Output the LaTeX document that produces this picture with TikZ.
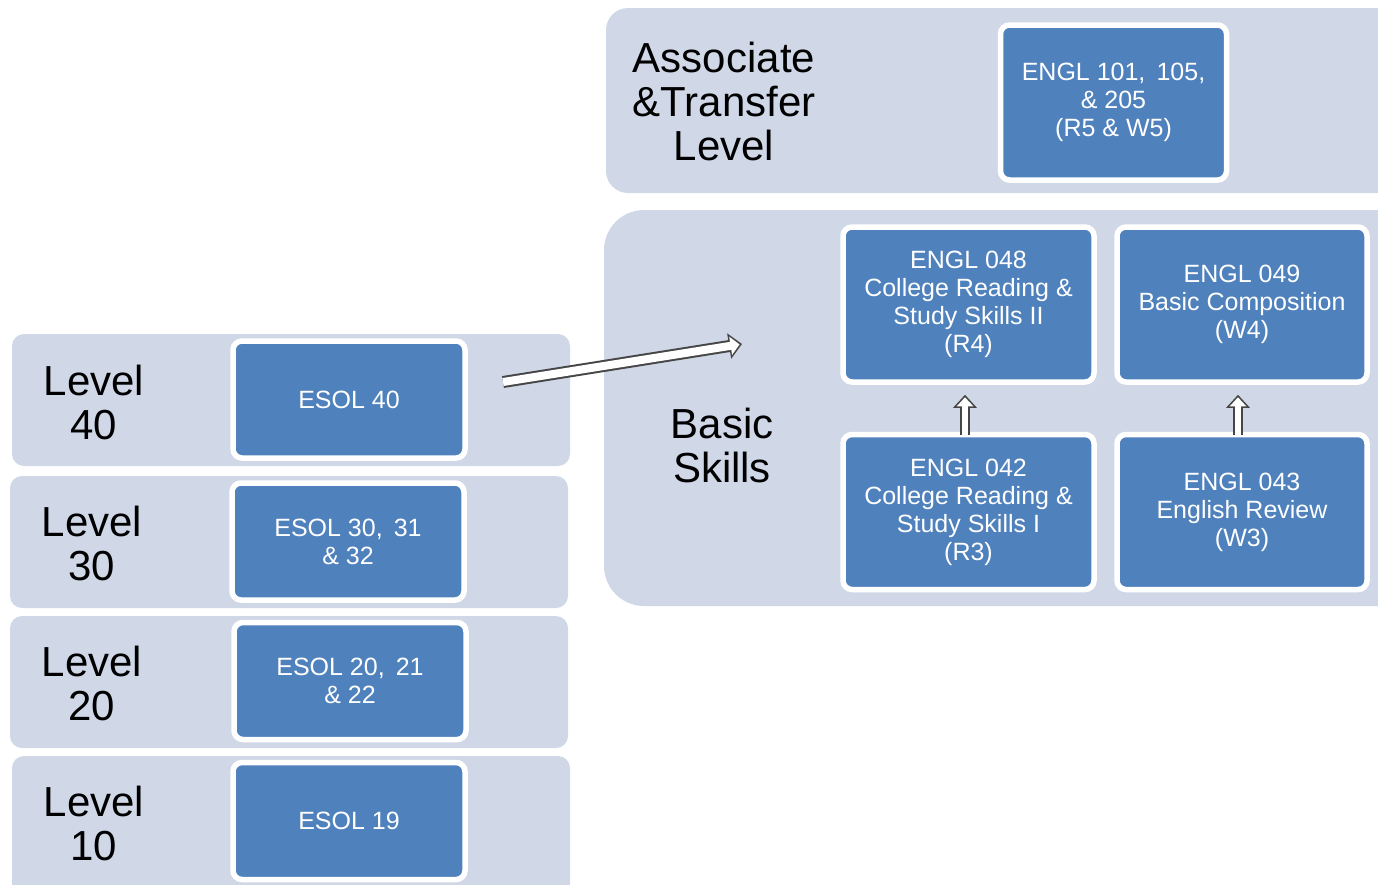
\documentclass[tikz,border=0pt]{standalone}
\usepackage{fontspec}
\setmainfont{Liberation Sans}
\usetikzlibrary{arrows.meta}
\definecolor{panelgray}{RGB}{208,216,232}
\definecolor{boxblue}{RGB}{79,129,189}
\definecolor{arrowgray}{RGB}{70,70,70}

\begin{document}
\begin{tikzpicture}[x=1pt,y=-1pt,
  panel/.style={fill=panelgray, rounded corners=#1},
  course/.style={draw=white, line width=5.5pt, fill=boxblue, rounded corners=9pt,
    text=white, align=center, font=\fontsize{25}{28}\selectfont,
    minimum width=232pt, minimum height=117pt, inner sep=0pt},
  wide/.style={minimum width=#1, minimum height=155pt},
  level/.style={align=center, font=\fontsize{42}{44}\selectfont, inner sep=0pt},
  blockarr/.style={draw=white, line width=#1, shorten >=2.5pt,
    -{Triangle[length=9pt, width=#1+10pt]},
    preaction={draw=arrowgray, line width=#1+4pt, shorten >=0pt,
      -{Triangle[length=13pt, width=#1+17pt]}}}]
  \useasboundingbox (0,0) rectangle (1378,884);
  \clip (0,0) rectangle (1378,884);

  \fill[panel=22pt] (606,8) rectangle (1420,193);
  \fill[panel=40pt] (604,210) rectangle (1420,606);
  \fill[panel=12pt] (12,334) rectangle (570,466);
  \fill[panel=12pt] (10,476) rectangle (568,608);
  \fill[panel=12pt] (10,616) rectangle (568,748);
  \fill[panel=12pt] (12,756) rectangle (570,910);

  \node[level] (assoc) at (724,101) {Associate\\\&Transfer\\Level};
  \node[level] (basic) at (722,445) {Basic\\Skills};
  \node[level] (lev40) at (94,402) {Level\\40};
  \node[level] (lev30) at (92,543) {Level\\30};
  \node[level] (lev20) at (92,683) {Level\\20};
  \node[level] (lev10) at (94,823) {Level\\10};

  \node[course] (esol40) at (349,399.5) {ESOL 40};
  \node[course] (esol30) at (348,541.5) {ESOL 30, \,31\\\& 32};
  \node[course] (esol20) at (350,681) {ESOL 20, \,21\\\& 22};
  \node[course] (esol19) at (349,821) {ESOL 19};

  \node[course, wide=226pt] (engl101) at (1113.5,102.5) {ENGL 101, \,105,\\\& 205\\(R5 \& W5)};
  \node[course, wide=251pt] (engl048) at (968.5,304.5) {ENGL 048\\College Reading \&\\Study Skills II\\(R4)};
  \node[course, wide=250pt] (engl049) at (1242,304.5) {ENGL 049\\Basic Composition\\(W4)};
  \node[course, wide=251pt] (engl042) at (968.5,512) {ENGL 042\\College Reading \&\\Study Skills I\\(R3)};
  \node[course, wide=250pt] (engl043) at (1242,512) {ENGL 043\\English Review\\(W3)};

  \coordinate (from40) at (503,382);
  \coordinate (tobasic) at (742,344);
  \draw[blockarr=8pt] (from40) -- (tobasic);
  \draw[blockarr=6pt] ([xshift=-3.5pt,yshift=-3pt]engl042.north) -- ([xshift=-3.5pt,yshift=-10pt]engl048.south);
  \draw[blockarr=6pt] ([xshift=-4pt,yshift=-3pt]engl043.north) -- ([xshift=-4pt,yshift=-10pt]engl049.south);
\end{tikzpicture}
\end{document}
